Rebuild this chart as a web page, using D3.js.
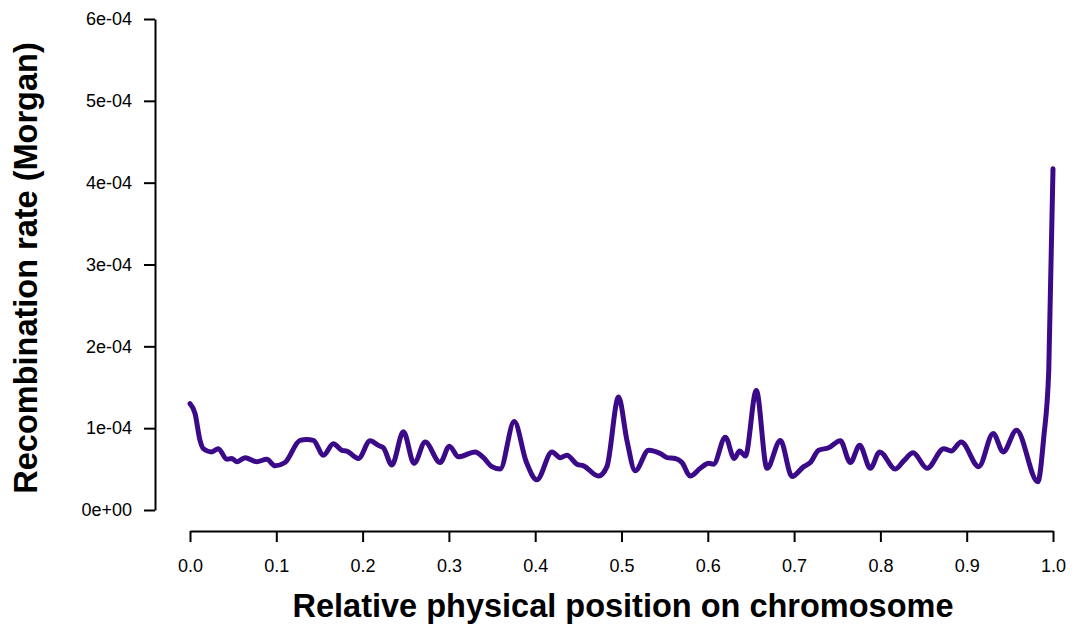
<!DOCTYPE html>
<html>
<head>
<meta charset="utf-8">
<script src="https://cdn.jsdelivr.net/npm/d3@7"></script>
<style>
  body { margin: 0; background: #fff; }
  svg { display: block; }
  text { font-family: "Liberation Sans", Arial, sans-serif; }
</style>
</head>
<body>
<svg id="chart" width="1074" height="625"></svg>
<script>
// Relative physical position on chromosome
const positions = [0.000,0.0058,0.0116,0.0154,0.0252,0.0328,0.0426,0.0483,0.0541,0.0638,0.0773,0.0889,0.0986,0.1101,0.1275,0.1353,0.1430,0.1546,0.1661,0.1759,0.1817,0.1951,0.2087,0.2183,0.2241,0.2339,0.2473,0.2597,0.2725,0.2899,0.3006,0.3111,0.3304,0.3401,0.3498,0.3594,0.3757,0.3896,0.4020,0.4194,0.4290,0.4368,0.4484,0.4560,0.4734,0.4831,0.4966,0.5063,0.5159,0.5314,0.5449,0.5527,0.5623,0.5701,0.5797,0.5913,0.6009,0.6067,0.6203,0.6307,0.6369,0.6435,0.6562,0.6686,0.6841,0.6976,0.7111,0.7188,0.7284,0.7400,0.7536,0.7652,0.7760,0.7884,0.7992,0.8174,0.8270,0.8379,0.8541,0.8734,0.8820,0.8936,0.9140,0.9307,0.9423,0.9577,0.9824,0.9893,0.9951,1.000];
// Recombination rate in units of 1e-04 Morgan
const ratesE4 = [1.30,1.18,0.85,0.75,0.71,0.75,0.62,0.63,0.59,0.64,0.59,0.62,0.54,0.58,0.85,0.86,0.85,0.67,0.81,0.73,0.72,0.63,0.845,0.79,0.76,0.55,0.955,0.57,0.83,0.58,0.78,0.65,0.71,0.64,0.53,0.50,1.08,0.59,0.37,0.71,0.64,0.67,0.56,0.54,0.415,0.53,1.38,0.85,0.48,0.73,0.69,0.64,0.63,0.58,0.415,0.51,0.57,0.56,0.89,0.63,0.72,0.66,1.46,0.51,0.85,0.41,0.53,0.58,0.73,0.76,0.845,0.58,0.79,0.51,0.71,0.50,0.60,0.70,0.51,0.75,0.72,0.83,0.53,0.935,0.71,0.975,0.345,0.89,1.71,4.17];
const xTicks = [0.0,0.1,0.2,0.3,0.4,0.5,0.6,0.7,0.8,0.9,1.0];
const yTicks = [0,1e-4,2e-4,3e-4,4e-4,5e-4,6e-4];
const yTickLabels = ["0e+00","1e-04","2e-04","3e-04","4e-04","5e-04","6e-04"];

const data = positions.map((p, i) => ({x: p, y: ratesE4[i] * 1e-4}));

const svg = d3.select("#chart");
const x = d3.scaleLinear().domain([0, 1]).range([190, 1053]);
const y = d3.scaleLinear().domain([0, 6e-4]).range([510, 19]);

// Y axis
const yAxis = svg.append("g")
  .attr("transform", "translate(155,0)")
  .call(d3.axisLeft(y).tickValues(yTicks).tickFormat((d, i) => yTickLabels[i]).tickSize(11).tickPadding(12).tickSizeOuter(0));
yAxis.select(".domain").attr("stroke", "#000").attr("stroke-width", 2);
yAxis.selectAll(".tick line").attr("stroke", "#000").attr("stroke-width", 2);
yAxis.selectAll(".tick text").attr("font-size", 18).attr("fill", "#000")
  .style("font-family", '"Liberation Sans", Arial, sans-serif');

// X axis
const xAxis = svg.append("g")
  .attr("transform", "translate(0,531)")
  .call(d3.axisBottom(x).tickValues(xTicks).tickFormat(d3.format(".1f")).tickSize(11).tickPadding(17).tickSizeOuter(0));
xAxis.select(".domain").attr("stroke", "#000").attr("stroke-width", 2);
xAxis.selectAll(".tick line").attr("stroke", "#000").attr("stroke-width", 2);
xAxis.selectAll(".tick text").attr("font-size", 18).attr("fill", "#000")
  .style("font-family", '"Liberation Sans", Arial, sans-serif');

// Line
const line = d3.line().x(d => x(d.x)).y(d => y(d.y)).curve(d3.curveMonotoneX);
svg.append("path")
  .datum(data)
  .attr("d", line)
  .attr("fill", "none")
  .attr("stroke", "#3a0a88")
  .attr("stroke-width", 5)
  .attr("stroke-linecap", "round")
  .attr("stroke-linejoin", "round");

// Titles
svg.append("text")
  .attr("x", 623).attr("y", 617)
  .attr("text-anchor", "middle")
  .attr("font-size", 32.5).attr("font-weight", "bold")
  .text("Relative physical position on chromosome");

svg.append("text")
  .attr("transform", "translate(37,268) rotate(-90)")
  .attr("text-anchor", "middle")
  .attr("font-size", 32.5).attr("font-weight", "bold")
  .text("Recombination rate (Morgan)");
</script>
</body>
</html>
